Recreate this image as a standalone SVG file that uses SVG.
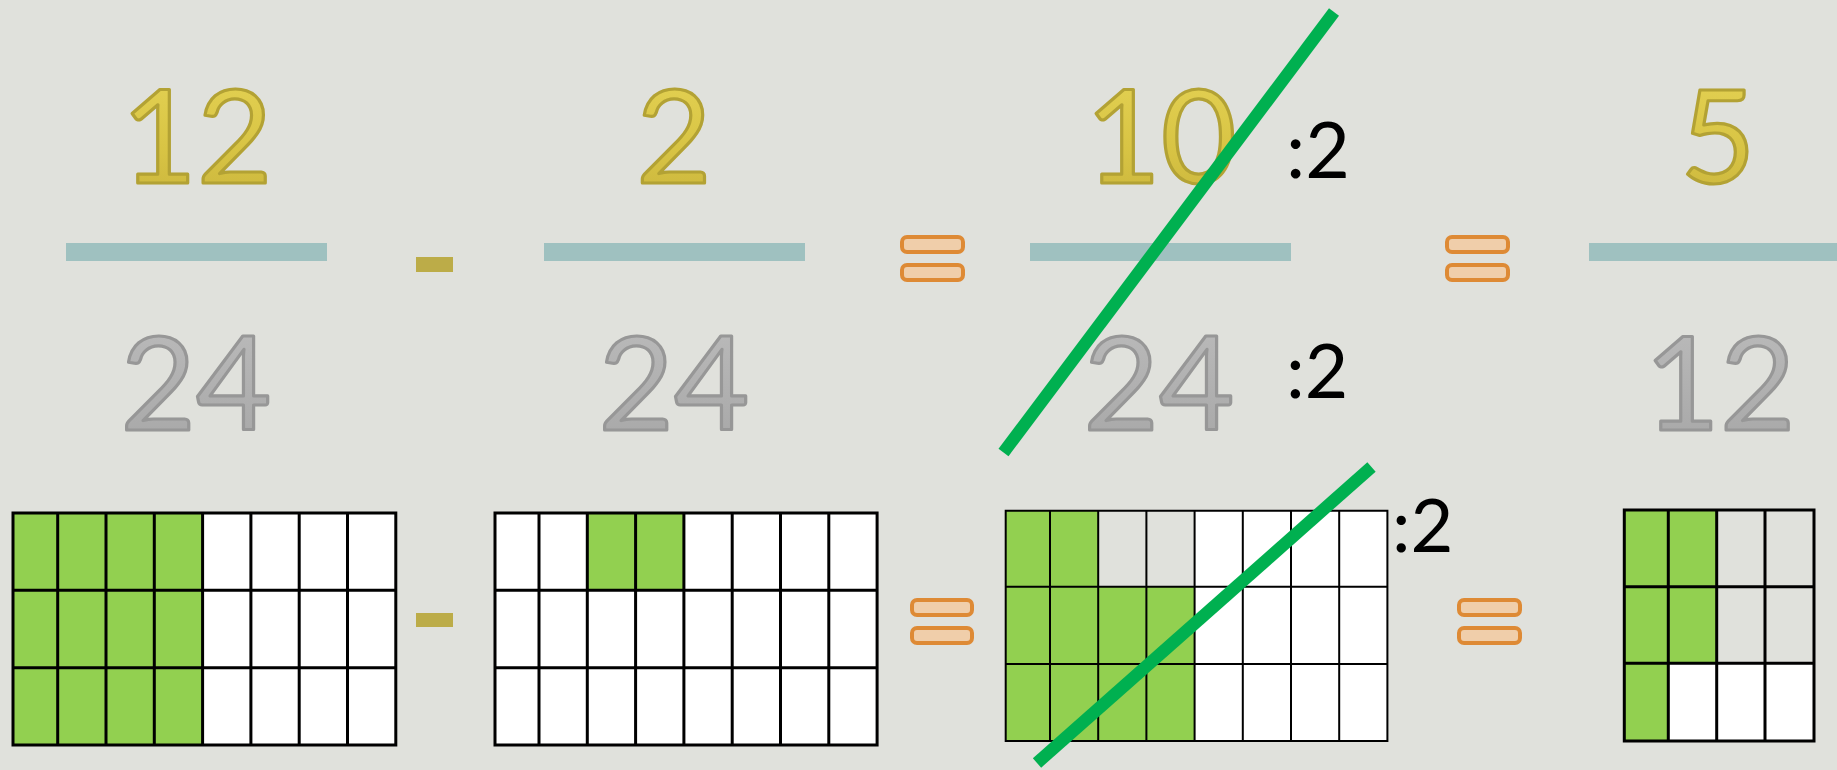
<svg xmlns="http://www.w3.org/2000/svg" width="1837" height="770" viewBox="0 0 1837 770">
<defs>
<linearGradient id="gold" x1="0" y1="0" x2="0" y2="1">
<stop offset="0" stop-color="#e6d456"/><stop offset="0.6" stop-color="#d8c444"/><stop offset="1" stop-color="#c9b43c"/>
</linearGradient>
<linearGradient id="silver" x1="0" y1="0" x2="0" y2="1">
<stop offset="0" stop-color="#bdbdbd"/><stop offset="1" stop-color="#a6a6a6"/>
</linearGradient>
<style>
.bg{fill:#e0e1dc}
.num{font-family:Lato,"Open Sans","Liberation Sans",sans-serif;font-size:130px;text-anchor:middle}
.top{fill:url(#gold);stroke:#b3a234;stroke-width:3.2;stroke-linejoin:round}
.bot{fill:url(#silver);stroke:#979797;stroke-width:3.2;stroke-linejoin:round}
.bar{fill:#9fc1c0}
.minus{fill:#bcac48}
.eq{fill:#f0ceaa;stroke:#de8a35;stroke-width:4}
.lbl{font-family:Lato,"Open Sans","Liberation Sans",sans-serif;fill:#000}
.g{fill:#92d050}
.w{fill:#ffffff}
.grid{fill:none;stroke:#000;stroke-width:3}
.grid.thin{stroke-width:2}
.strike{stroke:#00b050;stroke-width:12.5;fill:none}
</style>
</defs>
<rect class="bg" x="0" y="0" width="1837" height="770"/>

<g id="frac1">
<text class="num top" x="197" y="183">12</text>
<rect class="bar" x="66" y="243" width="261" height="18"/>
<text class="num bot" x="196" y="430">24</text>
</g>
<g id="minus-top"><rect class="minus" x="416" y="257" width="37" height="15"/></g>
<g id="frac2">
<text class="num top" x="674" y="183">2</text>
<rect class="bar" x="544" y="243" width="261" height="18"/>
<text class="num bot" x="674" y="430">24</text>
</g>
<g id="eq-top1">
<rect class="eq" x="902" y="237" width="61" height="15" rx="5"/>
<rect class="eq" x="902" y="265" width="61" height="15" rx="5"/>
</g>
<g id="frac3">
<text class="num top" x="1161" y="183">10</text>
<rect class="bar" x="1030" y="243" width="261" height="18"/>
<text class="num bot" x="1159" y="430">24</text>
</g>
<g id="label-num"><text class="lbl" x="1286" y="178" font-size="77">:2</text></g>
<g id="label-den"><text class="lbl" x="1286" y="398" font-size="75">:2</text></g>
<g id="eq-top2">
<rect class="eq" x="1447" y="237" width="61" height="15" rx="5"/>
<rect class="eq" x="1447" y="265" width="61" height="15" rx="5"/>
</g>
<g id="frac4">
<text class="num top" x="1718" y="183">5</text>
<rect class="bar" x="1589" y="243" width="261" height="18"/>
<text class="num bot" x="1720" y="430">12</text>
</g>

<g id="grid1">
<rect class="g" x="13" y="513" width="189.6" height="232"/>
<rect class="w" x="202.6" y="513" width="193.2" height="232"/>
<path class="grid" d="M13 513H395.8V745H13Z M13 590.3H395.8 M13 667.7H395.8 M57.7 513V745 M106 513V745 M154.3 513V745 M202.6 513V745 M250.9 513V745 M299.2 513V745 M347.5 513V745"/>
</g>
<g id="minus-bottom"><rect class="minus" x="416" y="613" width="37" height="14"/></g>
<g id="grid2">
<rect class="w" x="495" y="513" width="382" height="232"/>
<rect class="g" x="587.3" y="513" width="96.6" height="77.3"/>
<path class="grid" d="M495 513H877.1V745H495Z M495 590.3H877.1 M495 667.7H877.1 M539 513V745 M587.3 513V745 M635.6 513V745 M683.9 513V745 M732.2 513V745 M780.5 513V745 M828.8 513V745"/>
</g>
<g id="eq-bottom1">
<rect class="eq" x="912" y="600" width="60" height="15" rx="5"/>
<rect class="eq" x="912" y="628" width="60" height="15" rx="5"/>
</g>
<g id="grid3">
<rect class="g" x="1005.7" y="510.7" width="92.5" height="230.3"/>
<rect class="g" x="1098.2" y="586.7" width="96.4" height="154.3"/>
<rect class="w" x="1194.6" y="510.7" width="192.8" height="230.3"/>
<path class="grid thin" d="M1005.7 510.7H1387.4V741H1005.7Z M1005.7 586.7H1387.4 M1005.7 664H1387.4 M1050 510.7V741 M1098.2 510.7V741 M1146.4 510.7V741 M1194.6 510.7V741 M1242.8 510.7V741 M1291 510.7V741 M1339.2 510.7V741"/>
</g>
<g id="label-grid"><text class="lbl" x="1392" y="551.5" font-size="74">:2</text></g>
<g id="eq-bottom2">
<rect class="eq" x="1459" y="600" width="61" height="15" rx="5"/>
<rect class="eq" x="1459" y="628" width="61" height="15" rx="5"/>
</g>
<g id="grid4">
<rect class="g" x="1624.3" y="510" width="92.4" height="153.3"/>
<rect class="g" x="1624.3" y="663.3" width="44" height="77.7"/>
<rect class="w" x="1668.3" y="663.3" width="145.7" height="77.7"/>
<path class="grid" d="M1624.3 510H1814V741H1624.3Z M1624.3 586.7H1814 M1624.3 663.3H1814 M1668.3 510V741 M1716.7 510V741 M1765 510V741"/>
</g>

<g id="connectors">
<line class="strike" x1="1334" y1="12" x2="1003.5" y2="452.5"/>
<line class="strike" x1="1371.5" y1="467" x2="1037" y2="763"/>
</g>
</svg>
